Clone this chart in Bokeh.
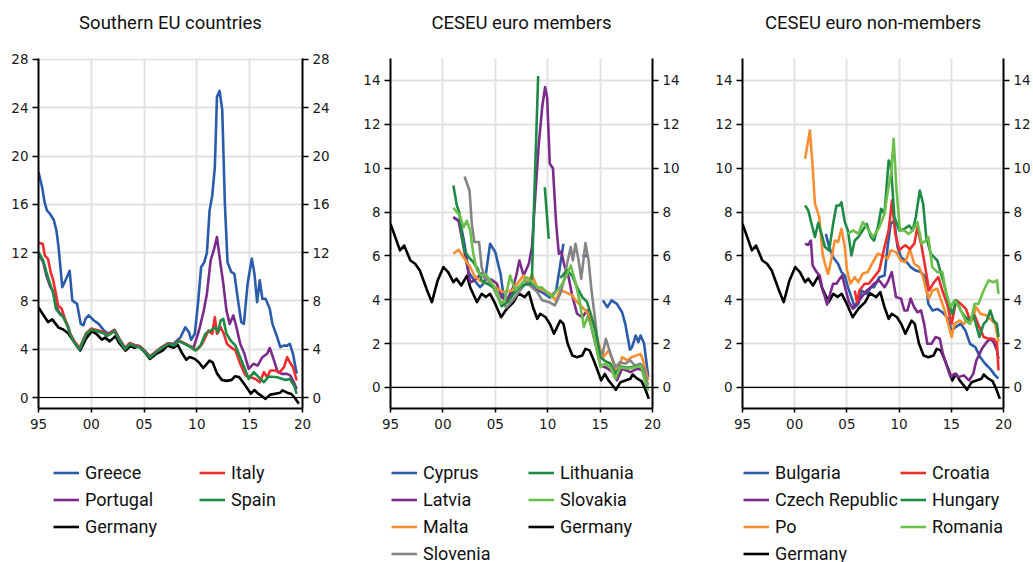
import numpy as np
from bokeh.plotting import figure
from bokeh.models import (Range1d, LinearAxis, FixedTicker, Span, Legend, LegendItem,
                          ColumnDataSource, Label)
from bokeh.layouts import row, column
from bokeh.embed import file_html
from bokeh.resources import INLINE

nan = float("nan")

# ---------------- data ----------------
x_ticks = [1995, 2000, 2005, 2010, 2015, 2020]
x_tick_labels = ["95", "00", "05", "10", "15", "20"]

titles = ["Southern EU countries", "CESEU euro members", "CESEU euro non-members"]

germany_x = [1995.0, 1995.45, 1995.9, 1996.3, 1996.9, 1997.35, 1997.8, 1998.15, 1998.5, 1998.95,
             1999.5, 2000.05, 2000.5, 2001.0, 2001.3, 2001.75, 2002.3, 2002.6, 2003.25, 2003.7,
             2004.1, 2004.5, 2005.0, 2005.55, 2006.1, 2006.75, 2007.2, 2007.8, 2008.2, 2008.6,
             2009.0, 2009.3, 2009.8, 2010.2, 2010.6, 2010.9, 2011.2, 2011.5, 2011.9, 2012.35,
             2012.8, 2013.3, 2013.6, 2014.0, 2014.4, 2014.7, 2015.1, 2015.45, 2015.8, 2016.2,
             2016.5, 2016.95, 2017.4, 2017.9, 2018.1, 2018.55, 2018.95, 2019.3, 2019.65]
germany_y = [7.46, 6.86, 6.25, 6.47, 5.79, 5.64, 5.33, 4.88, 4.42, 3.89,
             4.88, 5.49, 5.26, 4.80, 4.96, 4.65, 5.1, 4.57, 3.89, 4.27,
             4.12, 4.27, 3.81, 3.2, 3.59, 3.89, 4.3, 4.12, 4.35, 3.66,
             3.13, 3.36, 3.2, 2.9, 2.45, 2.75, 3.05, 2.9, 2.0, 1.46,
             1.38, 1.46, 1.76, 1.69, 1.23, 0.85, 0.32, 0.62, 0.32, 0.09,
             -0.11, 0.24, 0.32, 0.4, 0.59, 0.4, 0.29, -0.06, -0.52]

# Southern EU
greece_x = [1995.0, 1995.35, 1995.57, 1995.8, 1996.1, 1996.45, 1996.7, 1996.9, 1997.25, 1997.55,
            1997.95, 1998.2, 1998.65, 1999.0, 1999.25, 1999.45, 1999.75, 2000.25, 2000.7, 2001.2,
            2001.6, 2002.2, 2002.7, 2003.2, 2003.65, 2004.1, 2004.6, 2005.1, 2005.55, 2006.2,
            2006.7, 2007.3, 2007.8, 2008.45, 2008.9, 2009.25, 2009.45, 2009.8, 2010.1, 2010.4,
            2010.7, 2010.95, 2011.2, 2011.45, 2011.7, 2011.9, 2012.15, 2012.4, 2012.65, 2012.9,
            2013.25, 2013.55, 2013.85, 2014.2, 2014.45, 2014.8, 2015.2, 2015.45, 2015.7, 2015.95,
            2016.2, 2016.5, 2016.9, 2017.15, 2017.55, 2017.9, 2018.2, 2018.55, 2018.8, 2019.1,
            2019.45]
greece_y = [18.67, 17.4, 16.2, 15.5, 15.2, 14.7, 13.8, 12.45, 9.14, 9.7,
            10.5, 8.04, 7.76, 6.1, 5.97, 6.52, 6.8, 6.38, 6.1, 5.55,
            5.3, 5.6, 4.8, 4.1, 4.5, 4.35, 4.25, 3.85, 3.4, 3.85,
            4.2, 4.5, 4.45, 5.0, 5.82, 5.41, 4.78, 5.28, 7.76, 10.8,
            11.2, 12.0, 15.5, 16.7, 19.1, 24.9, 25.4, 23.8, 16.05, 11.2,
            10.4, 10.25, 8.31, 6.24, 6.1, 9.42, 11.5, 10.25, 7.9, 9.7,
            8.18, 8.18, 7.35, 6.1, 5.14, 4.17, 4.3, 4.3, 4.45, 3.62,
            1.96]

italy_x = [1995.0, 1995.4, 1995.6, 1995.9, 1996.15, 1996.4, 1996.65, 1996.85, 1997.2, 1997.5,
           1997.8, 1998.0, 1998.4, 1998.9, 1999.5, 2000.0, 2000.5, 2001.1, 2001.5, 2002.2,
           2002.7, 2003.2, 2003.65, 2004.1, 2004.6, 2005.1, 2005.55, 2006.2, 2006.7, 2007.3,
           2007.8, 2008.3, 2008.7, 2009.1, 2009.6, 2010.0, 2010.5, 2010.8, 2011.1, 2011.45,
           2011.7, 2011.9, 2012.25, 2012.55, 2012.85, 2013.2, 2013.65, 2014.1, 2014.6, 2015.1,
           2015.55, 2015.95, 2016.35, 2016.65, 2016.95, 2017.45, 2017.85, 2018.25, 2018.55, 2018.8,
           2019.1, 2019.45]
italy_y = [12.8, 12.73, 11.76, 11.49, 10.38, 9.7, 8.6, 7.62, 7.35, 6.52,
           5.82, 5.3, 4.65, 4.1, 5.3, 5.72, 5.6, 5.45, 5.2, 5.6,
           4.75, 4.08, 4.5, 4.35, 4.22, 3.8, 3.35, 3.85, 4.15, 4.5,
           4.35, 4.7, 4.55, 4.35, 4.1, 3.95, 4.45, 5.0, 5.55, 5.28,
           6.65, 5.28, 5.82, 5.28, 4.45, 4.17, 3.9, 2.79, 1.82, 1.68,
           1.54, 1.27, 2.1, 1.68, 2.24, 2.24, 2.1, 2.51, 3.34, 2.92,
           2.51, 1.41]

portugal_x = [1995.0, 1995.45, 1995.75, 1996.1, 1996.4, 1996.65, 1997.0, 1997.35, 1997.8, 1998.0,
              1998.4, 1998.9, 1999.5, 2000.0, 2000.5, 2001.1, 2001.5, 2002.2, 2002.7, 2003.2,
              2003.65, 2004.1, 2004.6, 2005.1, 2005.55, 2006.2, 2006.7, 2007.3, 2007.8, 2008.3,
              2008.7, 2009.3, 2009.7, 2010.2, 2010.65, 2010.95, 2011.3, 2011.6, 2011.9, 2012.15,
              2012.5, 2012.8, 2013.1, 2013.45, 2013.75, 2014.1, 2014.5, 2014.9, 2015.35, 2015.75,
              2016.2, 2016.65, 2016.9, 2017.3, 2017.65, 2018.05, 2018.55, 2018.85, 2019.25, 2019.45]
portugal_y = [11.9, 11.2, 10.1, 9.2, 8.8, 7.6, 7.0, 6.7, 5.9, 5.25,
              4.6, 4.0, 5.25, 5.66, 5.52, 5.38, 5.12, 5.52, 4.7, 4.02,
              4.44, 4.28, 4.16, 3.75, 3.33, 3.82, 4.12, 4.48, 4.32, 4.7,
              4.55, 4.25, 4.17, 5.55, 7.2, 8.6, 11.35, 12.2, 13.3, 11.6,
              9.42, 7.2, 6.1, 6.8, 5.82, 4.45, 3.62, 2.38, 2.79, 2.65,
              3.34, 3.62, 4.1, 3.07, 2.1, 1.96, 1.96, 1.82, 1.13, 0.7]

spain_x = [1995.0, 1995.45, 1995.75, 1996.1, 1996.4, 1996.65, 1997.0, 1997.35, 1997.8, 1998.0,
           1998.4, 1998.9, 1999.5, 2000.0, 2000.5, 2001.1, 2001.5, 2002.2, 2002.7, 2003.2,
           2003.65, 2004.1, 2004.6, 2005.1, 2005.55, 2006.2, 2006.7, 2007.3, 2007.8, 2008.3,
           2008.7, 2009.4, 2009.85, 2010.35, 2010.8, 2011.3, 2011.75, 2012.0, 2012.25, 2012.5,
           2012.8, 2013.2, 2013.65, 2014.1, 2014.6, 2014.9, 2015.4, 2015.85, 2016.35, 2016.8,
           2017.6, 2018.4, 2018.8, 2019.2, 2019.45]
spain_y = [12.04, 11.35, 10.38, 9.42, 8.6, 7.35, 6.93, 6.65, 5.82, 5.2,
           4.55, 3.98, 5.22, 5.62, 5.5, 5.35, 5.1, 5.5, 4.68, 4.0,
           4.42, 4.27, 4.14, 3.74, 3.3, 3.8, 4.1, 4.45, 4.3, 4.65,
           4.5, 4.17, 3.9, 4.3, 5.28, 5.55, 5.82, 5.41, 6.38, 6.52,
           5.28, 4.72, 4.3, 3.34, 2.24, 1.54, 2.1, 1.68, 1.27, 1.74,
           1.68, 1.46, 1.54, 1.0, 0.3]

# CESEU euro members
cyprus_x = [2001.0, 2001.65, 2002.06, 2002.45, 2003.0, 2003.55, 2004.0, 2004.5, 2005.0, 2005.5,
            2005.78, 2006.1, 2006.6, 2007.2, 2007.8, 2008.4, 2009.0, 2009.6, 2010.2, 2010.8,
            2011.2, 2011.5, 2012.0, 2013.3, 2013.8, 2014.5, 2015.26, 2015.7, 2016.1, 2016.6,
            2017.1, 2017.4, 2017.85, 2018.05, 2018.4, 2018.65, 2018.86, 2019.2, 2019.6]
cyprus_y = [7.75, 7.55, 6.55, 5.25, 4.88, 4.57, 4.8, 6.55, 6.17, 5.18,
            4.2, 3.96, 4.27, 4.57, 4.7, 4.75, 4.45, 4.3, 4.1, 4.4,
            5.6, 6.55, nan, 6.0, 6.0, nan, 3.97, 3.66, 3.97, 3.81,
            3.43, 2.9, 1.72, 1.84, 2.37, 2.07, 2.37, 2.0, 0.47]

latvia_x = [2001.0, 2001.5, 2001.97, 2002.28, 2002.6, 2003.0, 2003.7, 2004.0, 2004.7, 2005.15,
            2005.6, 2006.1, 2006.7, 2007.0, 2007.3, 2007.7, 2008.2, 2008.5, 2008.85, 2009.15,
            2009.48, 2009.75, 2009.95, 2010.2, 2010.5, 2010.8, 2011.06, 2011.3, 2011.6, 2012.0,
            2012.3, 2012.8, 2013.3, 2013.77, 2014.1, 2014.56, 2015.04, 2015.6, 2016.2, 2016.6,
            2017.1, 2017.9, 2018.5, 2019.1, 2019.55]
latvia_y = [7.77, 7.6, 6.4, 5.64, 4.8, 4.88, 5.2, 5.0, 4.9, 4.73,
            4.12, 3.96, 4.57, 5.1, 5.79, 5.1, 5.64, 6.4, 9.0, 11.1,
            12.8, 13.7, 13.2, 10.2, 10.0, 7.5, 6.1, 6.2, 5.55, 5.03,
            4.27, 3.36, 3.2, 3.51, 2.9, 1.99, 1.0, 0.9, 0.7, 0.32,
            0.85, 0.7, 0.85, 0.78, 0.1]

malta_x = [2001.0, 2001.5, 2001.97, 2002.6, 2003.0, 2003.5, 2004.3, 2004.98, 2005.78, 2006.6,
           2007.2, 2007.7, 2008.0, 2008.5, 2009.0, 2009.6, 2010.27, 2010.75, 2011.2, 2011.7,
           2012.33, 2012.8, 2013.3, 2013.9, 2014.4, 2014.87, 2015.3, 2015.83, 2016.3, 2016.6,
           2017.1, 2017.6, 2018.0, 2018.86, 2019.1, 2019.6]
malta_y = [6.1, 6.28, 5.94, 5.49, 5.1, 4.88, 4.73, 4.57, 4.35, 4.42,
           4.8, 5.1, 4.73, 5.14, 4.57, 4.42, 4.27, 3.97, 4.42, 4.35,
           4.2, 3.9, 3.66, 3.36, 2.9, 1.99, 1.38, 1.69, 1.08, 0.62,
           1.38, 1.23, 1.38, 1.53, 1.23, 0.32]

slovenia_x = [2002.06, 2002.54, 2002.76, 2003.0, 2003.45, 2003.7, 2004.0, 2004.3, 2004.8, 2005.15,
              2005.6, 2006.1, 2006.75, 2007.5, 2008.0, 2008.5, 2009.0, 2009.48, 2010.1, 2010.68,
              2011.2, 2011.55, 2011.85, 2012.2, 2012.4, 2012.65, 2012.95, 2013.2, 2013.6, 2013.9,
              2014.18, 2014.5, 2014.87, 2015.25, 2015.55, 2016.0, 2016.47, 2016.9, 2017.4, 2017.9,
              2018.3, 2018.86, 2019.2, 2019.55]
slovenia_y = [9.62, 8.98, 7.46, 6.63, 6.63, 5.49, 5.0, 4.9, 4.57, 4.2,
              3.81, 3.66, 4.03, 4.5, 4.8, 4.57, 4.35, 3.97, 3.9, 3.74,
              4.27, 4.88, 5.64, 6.4, 5.79, 6.55, 5.8, 4.95, 6.58, 5.79,
              4.42, 3.2, 1.69, 1.53, 2.22, 1.53, 0.92, 1.15, 1.08, 1.23,
              1.0, 1.08, 0.85, 0.1]

lithuania_x = [2001.0, 2001.33, 2001.55, 2001.8, 2002.06, 2002.45, 2002.9, 2003.33, 2003.7, 2004.2,
               2004.7, 2005.0, 2005.6, 2006.2, 2006.8, 2007.4, 2007.9, 2008.3, 2008.5, 2008.67,
               2009.09, 2009.4, 2009.72, 2010.1, 2010.6, 2011.2, 2011.4, 2011.85, 2012.33, 2012.8,
               2013.3, 2013.75, 2014.1, 2014.56, 2015.04, 2015.5, 2015.99, 2016.47, 2016.9, 2017.7,
               2018.3, 2018.9, 2019.5]
lithuania_y = [9.21, 8.3, 8.0, 7.0, 6.25, 5.94, 5.71, 5.41, 4.88, 4.73,
               4.6, 4.5, 3.7, 3.9, 4.3, 4.6, 4.7, 4.7, 5.03, 7.92,
               14.2, nan, 9.13, 6.78, nan, 5.0, 5.1, 5.34, 5.1, 4.57,
               4.12, 3.9, 3.36, 2.6, 1.38, 1.2, 1.08, 0.62, 0.95, 0.9,
               0.95, 0.98, -0.06]

slovakia_x = [2001.0, 2001.33, 2001.65, 2001.97, 2002.28, 2002.6, 2002.9, 2003.25, 2003.7, 2004.04,
              2004.5, 2005.0, 2005.47, 2005.9, 2006.42, 2006.9, 2007.5, 2008.0, 2008.5, 2009.0,
              2009.4, 2009.9, 2010.4, 2010.9, 2011.3, 2011.8, 2012.2, 2012.65, 2013.1, 2013.45,
              2013.77, 2014.1, 2014.56, 2015.04, 2015.45, 2015.99, 2016.47, 2016.9, 2017.7, 2018.3,
              2018.9, 2019.6]
slovakia_y = [8.19, 8.0, 7.8, 7.3, 7.6, 7.16, 6.1, 5.33, 5.1, 5.18,
              4.88, 4.5, 3.81, 3.96, 5.1, 4.42, 4.73, 5.03, 4.8, 4.57,
              4.57, 4.35, 4.12, 4.42, 4.65, 5.1, 5.56, 4.8, 3.81, 2.75,
              3.2, 2.9, 1.99, 0.92, 1.08, 0.92, 0.4, 0.92, 0.85, 0.92,
              0.98, -0.14]

# CESEU euro non-members
bulgaria_x = [2002.98, 2003.3, 2003.68, 2004.15, 2004.48, 2004.8, 2005.1, 2005.43, 2005.75, 2006.1,
              2006.4, 2006.9, 2007.3, 2007.6, 2008.1, 2008.6, 2008.9, 2009.2, 2009.54, 2009.85,
              2010.18, 2010.6, 2011.1, 2011.6, 2012.1, 2012.5, 2012.8, 2013.2, 2013.66, 2014.14,
              2014.6, 2015.03, 2015.4, 2015.9, 2016.35, 2016.8, 2017.3, 2017.77, 2018.25, 2018.73,
              2019.2, 2019.52]
bulgaria_y = [7.0, 6.4, 5.94, 5.64, 5.26, 5.1, 4.57, 4.12, 3.66, 3.81,
              4.42, 4.27, 4.57, 4.57, 5.03, 5.1, 6.4, 7.46, 7.6, 6.4,
              5.94, 5.79, 5.49, 5.33, 5.26, 5.03, 3.81, 3.51, 3.58, 3.43,
              3.2, 2.6, 2.75, 2.9, 2.6, 1.99, 1.84, 1.38, 1.08, 0.85,
              0.55, 0.4]

czech_x = [2000.99, 2001.3, 2001.55, 2001.72, 2002.1, 2002.4, 2002.67, 2002.85, 2003.1, 2003.68,
           2004.0, 2004.3, 2004.55, 2004.9, 2005.2, 2005.58, 2005.9, 2006.4, 2006.9, 2007.3,
           2007.6, 2008.1, 2008.6, 2008.9, 2009.3, 2009.7, 2010.18, 2010.5, 2010.8, 2011.1,
           2011.45, 2011.76, 2012.1, 2012.4, 2012.7, 2013.1, 2013.5, 2013.9, 2014.2, 2014.5,
           2014.93, 2015.3, 2015.7, 2016.2, 2016.7, 2017.1, 2017.4, 2017.93, 2018.4, 2018.73,
           2019.05, 2019.37, 2019.52]
czech_y = [6.55, 6.5, 6.7, 5.56, 5.26, 5.1, 4.42, 4.2, 3.78, 4.73,
           4.73, 4.95, 5.1, 4.42, 3.89, 3.59, 3.81, 4.12, 4.42, 4.57,
           4.73, 4.88, 4.57, 4.8, 5.26, 4.12, 4.05, 3.51, 3.51, 4.05,
           3.66, 3.43, 3.51, 2.9, 1.99, 1.99, 2.3, 2.22, 1.53, 1.08,
           0.47, 0.62, 0.47, 0.55, 0.32, 0.62, 1.23, 1.76, 2.07, 2.22,
           2.07, 1.69, 1.3]

po_x = [2000.99, 2001.46, 2001.72, 2001.94, 2002.35, 2002.67, 2002.9, 2003.2, 2003.55, 2003.84,
        2004.15, 2004.48, 2004.8, 2005.01, 2005.33, 2005.75, 2006.1, 2006.5, 2007.0, 2007.48,
        2007.96, 2008.4, 2008.9, 2009.2, 2009.7, 2010.18, 2010.6, 2011.03, 2011.45, 2011.92,
        2012.3, 2012.6, 2012.85, 2013.2, 2013.66, 2013.97, 2014.38, 2014.7, 2015.03, 2015.3,
        2015.8, 2016.2, 2016.7, 2017.0, 2017.37, 2017.8, 2018.4, 2018.9, 2019.2, 2019.52]
po_y = [10.43, 11.72, 10.05, 8.38, 7.77, 6.1, 5.64, 5.18, 5.94, 6.7,
        6.63, 7.23, 6.4, 5.34, 4.73, 5.03, 4.8, 5.18, 5.26, 5.71,
        6.1, 6.02, 5.87, 6.25, 6.17, 5.79, 5.71, 6.32, 5.64, 5.49,
        5.03, 4.42, 4.05, 4.42, 4.5, 4.05, 3.5, 2.9, 2.3, 2.9,
        3.05, 2.9, 3.2, 3.05, 3.66, 3.36, 3.28, 3.05, 2.9, 2.07]

croatia_x = [2005.75, 2005.97, 2006.2, 2006.7, 2007.1, 2007.6, 2008.1, 2008.6, 2009.0, 2009.32,
             2009.63, 2010.02, 2010.33, 2010.6, 2011.03, 2011.45, 2011.76, 2012.17, 2012.5, 2012.87,
             2013.35, 2013.76, 2014.14, 2014.6, 2015.03, 2015.47, 2015.9, 2016.4, 2016.8, 2017.24,
             2017.69, 2018.1, 2018.57, 2019.05, 2019.37, 2019.52]
croatia_y = [4.42, 3.89, 4.42, 4.73, 4.73, 5.03, 5.34, 6.4, 7.16, 8.53,
             7.0, 6.25, 6.4, 6.48, 6.32, 6.55, 7.31, 6.4, 5.49, 4.42,
             4.8, 5.03, 4.42, 3.81, 2.9, 3.97, 3.81, 3.58, 3.05, 3.28,
             2.75, 2.3, 2.22, 2.22, 2.0, 0.78]

hungary_x = [2001.0, 2001.3, 2001.62, 2001.94, 2002.25, 2002.57, 2002.9, 2003.3, 2003.68, 2004.0,
             2004.3, 2004.48, 2004.8, 2005.1, 2005.43, 2005.75, 2006.1, 2006.5, 2006.9, 2007.3,
             2007.6, 2007.96, 2008.28, 2008.6, 2009.0, 2009.2, 2009.55, 2010.02, 2010.5, 2010.97,
             2011.3, 2011.6, 2011.98, 2012.3, 2012.6, 2013.03, 2013.35, 2013.66, 2014.07, 2014.38,
             2014.76, 2015.09, 2015.47, 2015.9, 2016.35, 2016.8, 2017.1, 2017.69, 2018.1, 2018.4,
             2018.73, 2019.05, 2019.37, 2019.52]
hungary_y = [8.3, 8.07, 7.46, 6.86, 7.5, 7.0, 6.4, 6.25, 7.46, 8.3,
             8.3, 8.44, 7.54, 7.16, 6.02, 6.7, 6.86, 7.16, 7.46, 6.86,
             6.7, 7.3, 8.15, 7.92, 10.35, 10.2, 7.77, 7.16, 7.23, 7.38,
             7.16, 7.77, 8.98, 8.38, 6.86, 6.1, 5.94, 5.79, 5.1, 4.57,
             3.81, 3.36, 3.97, 3.51, 3.2, 3.05, 3.36, 2.3, 2.9, 3.05,
             3.51, 3.05, 2.9, 2.3]

romania_x = [2005.1, 2005.6, 2006.1, 2006.53, 2007.0, 2007.5, 2008.1, 2008.6, 2008.9, 2009.23,
             2009.48, 2009.75, 2010.08, 2010.5, 2010.9, 2011.3, 2011.76, 2012.17, 2012.55, 2012.8,
             2013.18, 2013.66, 2014.14, 2014.45, 2014.93, 2015.3, 2015.8, 2016.35, 2016.8, 2017.24,
             2017.6, 2018.1, 2018.57, 2019.05, 2019.37, 2019.52]
romania_y = [7.0, 7.16, 7.0, 7.54, 7.23, 6.86, 7.3, 7.92, 8.9, 9.74,
             11.34, 9.0, 7.16, 7.16, 7.0, 7.16, 7.54, 6.55, 6.7, 6.86,
             5.49, 5.26, 5.26, 4.42, 3.66, 3.97, 3.66, 3.05, 2.9, 3.81,
             3.81, 4.42, 4.88, 4.8, 4.88, 4.27]

# ---------------- styling ----------------
BLUE = "#2a5ca9"
RED = "#ee2e2e"
PURPLE = "#7a2b8c"
GREEN = "#1d8a46"
ORANGE = "#f78e2f"
LGREEN = "#6cbf4a"
GRAY = "#858585"
BLACK = "#000000"

TEXT_FONT = "Roboto"
TICK_FONT = "DejaVu Sans"
TITLE_H = 40         # title strip height
PLOT_H = 396
LEG_H = 126
FRAME_TOP = 18       # inside the plot figure (page y = 58)
FRAME_H = 350
ROW_H = 27
LEG_TOP = 22.5       # distance from top of legend strip to top of first row
LINE_W = 2.6


def style_axis(ax, is_x=False):
    ax.axis_line_color = "black"
    ax.axis_line_width = 2
    ax.major_tick_line_color = "black"
    ax.major_tick_line_width = 1.5
    ax.major_tick_in = 0
    ax.minor_tick_line_color = None
    ax.major_label_text_font = TICK_FONT
    ax.major_label_text_font_size = "13.5px"
    ax.major_label_text_color = "#1a1a1a"
    if is_x:
        ax.major_tick_out = 4
        ax.major_label_standoff = 6
    else:
        ax.major_tick_out = 6
        ax.major_label_standoff = 4


def blank_strip(width, height):
    f = figure(width=width, height=height, x_range=Range1d(0, 1), y_range=Range1d(0, height),
               toolbar_location=None, output_backend="svg", min_border=0,
               x_axis_type=None, y_axis_type=None)
    f.outline_line_color = None
    f.grid.visible = False
    return f


def make_panel(title, width, bl, br, y_lo, y_hi, y_ticks, series, nrows, label_w, leg_x):
    # title strip (its frame lines up with the plot frame, so the title is centred on it)
    tf = blank_strip(width, TITLE_H)
    tf.add_layout(Label(x=0.5, y=TITLE_H - 22, x_units="data", y_units="data", text=title,
                        text_align="center", text_baseline="middle", text_font=TEXT_FONT,
                        text_font_size="18.5px", text_color="#111111"))

    p = figure(width=width, height=PLOT_H, x_range=Range1d(1995, 2020), y_range=Range1d(y_lo, y_hi),
               toolbar_location=None, output_backend="svg",
               min_border_left=bl, min_border_right=br, min_border_top=FRAME_TOP,
               min_border_bottom=PLOT_H - FRAME_TOP - FRAME_H)
    p.outline_line_color = None
    p.background_fill_color = "white"
    p.border_fill_color = "white"

    p.xaxis.ticker = FixedTicker(ticks=x_ticks)
    p.xaxis.major_label_overrides = {t: l for t, l in zip(x_ticks, x_tick_labels)}
    p.yaxis.ticker = FixedTicker(ticks=y_ticks)
    right = LinearAxis(ticker=FixedTicker(ticks=y_ticks))
    p.add_layout(right, "right")
    for ax in p.xaxis:
        style_axis(ax, True)
    for ax in p.yaxis:
        style_axis(ax)

    p.xgrid.ticker = FixedTicker(ticks=x_ticks[1:-1])
    p.ygrid.ticker = FixedTicker(ticks=y_ticks)
    p.grid.grid_line_color = "#e2e2e2"
    p.grid.grid_line_width = 2

    p.add_layout(Span(location=0, dimension="width", line_color="black", line_width=1.2))

    # Germany drawn first (underneath)
    for name, xs, ys, color in sorted(series, key=lambda s: s[0] != "Germany"):
        src = ColumnDataSource(dict(x=np.array(xs, dtype=float), y=np.array(ys, dtype=float)))
        p.line("x", "y", source=src, line_color=color, line_width=LINE_W, line_join="round")

    # legend strip below the plot
    lf = blank_strip(width, LEG_H)
    items = []
    for name, _, _, color in series:
        r = lf.line(x=[nan], y=[nan], line_color=color, line_width=LINE_W)
        items.append(LegendItem(label=name, renderers=[r]))
    vy = LEG_H - LEG_TOP - nrows * ROW_H
    leg = Legend(items=items, location=(leg_x, vy), orientation="vertical", nrows=nrows,
                 glyph_width=26, glyph_height=ROW_H, label_height=ROW_H, label_width=label_w,
                 label_standoff=6, spacing=0, padding=0, margin=0,
                 border_line_color=None, background_fill_alpha=0,
                 label_text_font=TEXT_FONT, label_text_font_size="18px",
                 label_text_color="#111111")
    lf.add_layout(leg, "center")
    return column(tf, p, lf, spacing=0)


south = [
    ("Greece", greece_x, greece_y, BLUE),
    ("Portugal", portugal_x, portugal_y, PURPLE),
    ("Germany", germany_x, germany_y, BLACK),
    ("Italy", italy_x, italy_y, RED),
    ("Spain", spain_x, spain_y, GREEN),
]
members = [
    ("Cyprus", cyprus_x, cyprus_y, BLUE),
    ("Latvia", latvia_x, latvia_y, PURPLE),
    ("Malta", malta_x, malta_y, ORANGE),
    ("Slovenia", slovenia_x, slovenia_y, GRAY),
    ("Lithuania", lithuania_x, lithuania_y, GREEN),
    ("Slovakia", slovakia_x, slovakia_y, LGREEN),
    ("Germany", germany_x, germany_y, BLACK),
]
non_members = [
    ("Bulgaria", bulgaria_x, bulgaria_y, BLUE),
    ("Czech Republic", czech_x, czech_y, PURPLE),
    ("Po", po_x, po_y, ORANGE),
    ("Germany", germany_x, germany_y, BLACK),
    ("Croatia", croatia_x, croatia_y, RED),
    ("Hungary", hungary_x, hungary_y, GREEN),
    ("Romania", romania_x, romania_y, LGREEN),
]

c1 = make_panel(titles[0], 345, 38, 43, -0.91, 28.08, [0, 4, 8, 12, 16, 20, 24, 28], south, 3, 114, 15)
c2 = make_panel(titles[1], 345, 45, 38, -0.96, 15.0, [0, 2, 4, 6, 8, 10, 12, 14], members, 4, 105, 1)
c3 = make_panel(titles[2], 343, 52, 28, -0.96, 15.0, [0, 2, 4, 6, 8, 10, 12, 14], non_members, 4, 125, 1)

layout = row(c1, c2, c3, spacing=0)
open("out.html", "w").write(file_html(layout, INLINE))
